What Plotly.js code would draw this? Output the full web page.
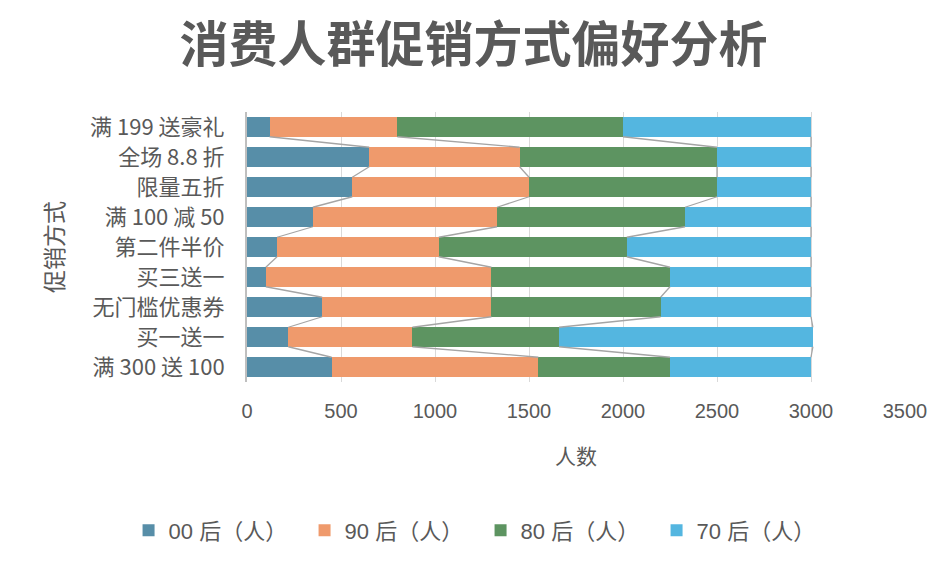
<!DOCTYPE html>
<html>
<head>
<meta charset="utf-8">
<script src="https://cdn.plot.ly/plotly-3.0.1.min.js"></script>
<style>html,body{margin:0;padding:0;background:#fff;}#chart{width:947px;height:567px;}</style>
</head>
<body>
<div id="chart"></div>
<script>
// Categories listed top to bottom as shown in the chart
var categories = ["满 199 送豪礼", "全场 8.8 折", "限量五折", "满 100 减 50", "第二件半价", "买三送一", "无门槛优惠券", "买一送一", "满 300 送 100"];
var seriesNames = ["00 后（人）", "90 后（人）", "80 后（人）", "70 后（人）"];
var gen00 = [120, 650, 560, 350, 160, 100, 400, 220, 450];
var gen90 = [680, 800, 940, 980, 860, 1200, 900, 660, 1100];
var gen80 = [1200, 1050, 1000, 1000, 1000, 950, 900, 780, 700];
var gen70 = [1000, 500, 500, 670, 980, 750, 800, 1350, 750];
var xTicks = [0, 500, 1000, 1500, 2000, 2500, 3000, 3500];

var colors = ["#578EA8", "#EF9A6C", "#5D9461", "#54B6E0"];
var barWidth = 0.65;
var FONT = "'Liberation Sans', 'Noto Sans CJK SC', sans-serif";
var CJK = "'Noto Sans CJK SC', 'Liberation Sans', sans-serif";

var n = categories.length;
var yPos = categories.map(function(c, i){ return n - 1 - i; });
var allSeries = [gen00, gen90, gen80, gen70];

var traces = [];
allSeries.forEach(function(vals, k){
  traces.push({
    type: 'bar', orientation: 'h', name: seriesNames[k],
    x: vals, y: yPos, width: barWidth,
    marker: {color: colors[k], line: {width: 0}},
    hoverinfo: 'x+name'
  });
});

// series lines connecting stacked segment ends between adjacent bars
var cum = [];
allSeries.forEach(function(vals, k){
  cum.push(vals.map(function(v, i){
    var s = 0; for (var j = 0; j <= k; j++) s += allSeries[j][i]; return s;
  }));
});
cum.forEach(function(c){
  var lx = [], ly = [];
  for (var i = 0; i < n - 1; i++) {
    lx.push(c[i], c[i+1], null);
    ly.push(yPos[i] - barWidth/2, yPos[i+1] + barWidth/2, null);
  }
  traces.push({
    type: 'scatter', mode: 'lines', x: lx, y: ly, showlegend: false,
    hoverinfo: 'skip', line: {color: '#A5A5A5', width: 1.3}
  });
});

var layout = {
  width: 947, height: 567,
  paper_bgcolor: '#fff', plot_bgcolor: '#fff',
  barmode: 'stack',
  margin: {l: 247, r: 42, t: 112, b: 185},
  font: {family: FONT, color: '#595959', size: 20},
  title: {
    text: '<b>消费人群促销方式偏好分析</b>',
    font: {family: CJK, size: 49, color: '#595959'},
    x: 0.5, xanchor: 'center', y: 0.921, yanchor: 'middle'
  },
  xaxis: {
    range: [0, 3500], tickvals: xTicks, ticktext: xTicks.map(String),
    showgrid: true, gridcolor: '#D9D9D9', gridwidth: 1,
    zeroline: false, showline: false, ticks: '', ticklabelstandoff: 15,
    tickfont: {size: 20, color: '#595959'},
    title: {text: '人数', font: {family: CJK, size: 21, color: '#595959'}, standoff: 28},
    automargin: false
  },
  yaxis: {
    range: [-0.5, n - 0.5], tickvals: yPos, ticktext: categories,
    showgrid: false, zeroline: false, showline: true, linecolor: '#BFBFBF', linewidth: 2,
    ticks: '', ticklabelstandoff: 16,
    tickfont: {family: CJK, size: 22, color: '#595959'},
    title: {text: '促销方式', font: {family: CJK, size: 23, color: '#595959'}, standoff: 20},
    automargin: false
  },
  showlegend: true,
  legend: {
    orientation: 'h', traceorder: 'normal',
    x: -0.18, xanchor: 'left', y: -0.55, yanchor: 'middle',
    entrywidth: 131, font: {family: FONT, size: 22, color: '#595959'},
    itemclick: false
  },
  bargap: 0.35
};

Plotly.newPlot('chart', traces, layout, {displayModeBar: false, staticPlot: true});
</script>
</body>
</html>
